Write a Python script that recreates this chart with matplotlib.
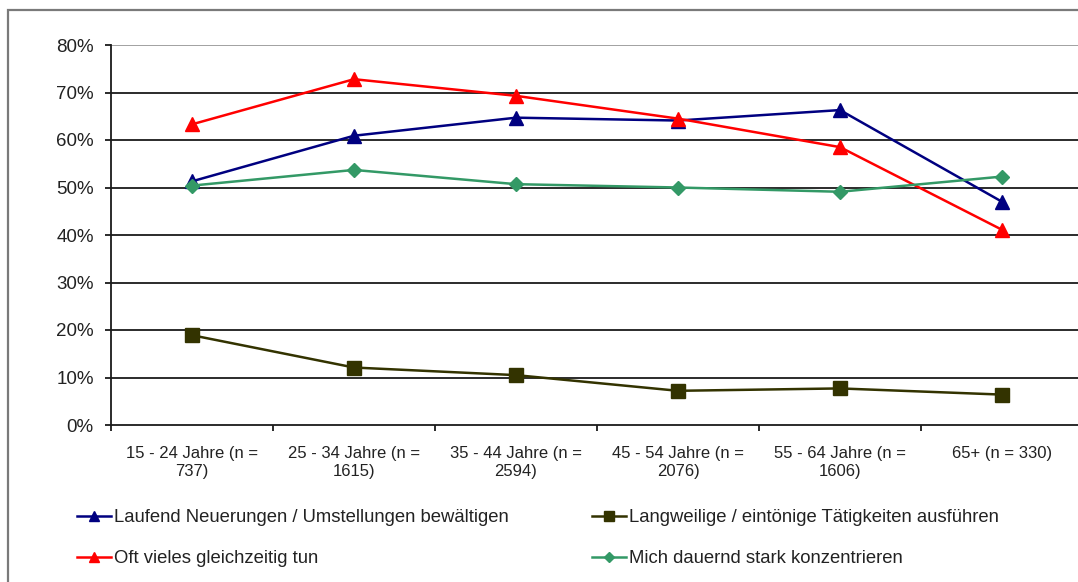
import numpy as np
import matplotlib
matplotlib.use("Agg")
import matplotlib.pyplot as plt
from matplotlib.patches import Rectangle
from matplotlib.ticker import FixedLocator, PercentFormatter

plt.rcParams['font.family'] = ['Liberation Sans', 'DejaVu Sans']

categories = ['15 - 24 Jahre (n =\n737)', '25 - 34 Jahre (n =\n1615)', '35 - 44 Jahre (n =\n2594)',
              '45 - 54 Jahre (n =\n2076)', '55 - 64 Jahre (n =\n1606)', '65+ (n = 330)']

laufend = [51.3, 60.9, 64.7, 64.1, 66.3, 47.0]
oft_vieles = [63.3, 72.8, 69.3, 64.5, 58.5, 41.1]
langweilige = [18.9, 12.1, 10.5, 7.2, 7.7, 6.4]
konzentrieren = [50.4, 53.7, 50.7, 50.0, 49.1, 52.3]

W, H = 1078, 582
fig = plt.figure(figsize=(W / 100, H / 100), dpi=100)

# outer chart frame (continues past right/bottom edge)
fig.patches.append(Rectangle((8 / W, -0.2), 1.5, (H - 10) / H + 0.2, transform=fig.transFigure,
                             fill=False, edgecolor='#7a7a7a', lw=1.6))

left, right, bottom, top = 111, 1083, 425, 45
ax = fig.add_axes([left / W, 1 - bottom / H, (right - left) / W, (bottom - top) / H])

x = np.arange(len(categories))
l1, = ax.plot(x, laufend, color='#000080', marker='^', markersize=10, lw=1.8, label='Laufend Neuerungen / Umstellungen bewältigen', zorder=3)
l2, = ax.plot(x, oft_vieles, color='#FF0000', marker='^', markersize=10, lw=1.8, label='Oft vieles gleichzeitig tun', zorder=3)
l3, = ax.plot(x, langweilige, color='#333300', marker='s', markersize=10, lw=1.8, label='Langweilige / eintönige Tätigkeiten ausführen', zorder=3)
l4, = ax.plot(x, konzentrieren, color='#339966', marker='D', markersize=7, lw=1.8, label='Mich dauernd stark konzentrieren', zorder=3)

ax.set_xlim(-0.5, len(categories) - 0.5)
ax.set_ylim(0, 80)
ax.set_yticks(np.arange(0, 81, 10))
ax.yaxis.set_major_formatter(PercentFormatter(decimals=0))
for v in np.arange(10, 81, 10):
    ax.axhline(v, color='#9a9a9a' if v == 80 else '#1a1a1a', lw=1.3, zorder=1)

ax.set_xticks(x)
ax.set_xticklabels(categories, fontsize=12, color='#222222', linespacing=1.25)
ax.xaxis.set_minor_locator(FixedLocator(np.arange(-0.5, len(categories), 1)))
ax.tick_params(axis='x', which='major', length=0, pad=15)
ax.tick_params(axis='x', which='minor', length=4, width=1.3, color='#1a1a1a')
ax.tick_params(axis='y', length=4, width=1.3, color='#1a1a1a', labelsize=13.5, pad=8.5, labelcolor='#222222')

for s in ['top', 'right']:
    ax.spines[s].set_visible(False)
for s in ['left', 'bottom']:
    ax.spines[s].set_color('#1a1a1a')
    ax.spines[s].set_linewidth(1.3)

leg_kw = dict(frameon=False, fontsize=13.3, handlelength=1.85, handletextpad=0.15,
              labelspacing=1.3, borderpad=0, borderaxespad=0, markerscale=0.75)
lg1 = fig.legend(handles=[l1, l2], loc='upper left', bbox_to_anchor=(77 / W, 1 - 509 / H), **leg_kw)
lg2 = fig.legend(handles=[l3, l4], loc='upper left', bbox_to_anchor=(592 / W, 1 - 509 / H), **leg_kw)
for lg in (lg1, lg2):
    for t in lg.get_texts():
        t.set_color('#222222')

fig.savefig('out.png', dpi=100)
